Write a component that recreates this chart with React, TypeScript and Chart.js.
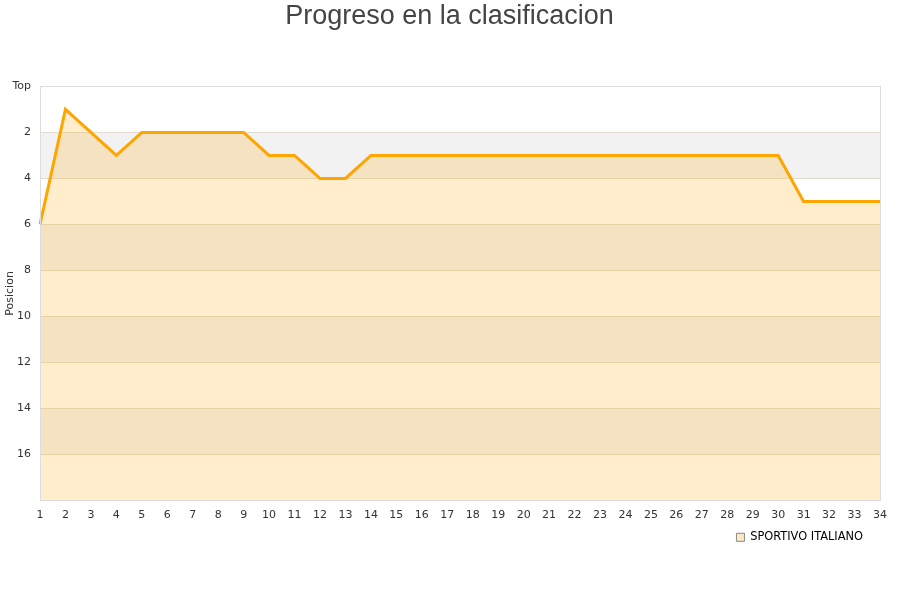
import React, { useEffect, useRef } from "react";
import { Chart, registerables } from "chart.js";

Chart.register(...registerables);

const matchdays: string[] = Array.from({ length: 34 }, (_, i) => String(i + 1));
const positions: number[] = [6, 1, 2, 3, 2, 2, 2, 2, 2, 3, 3, 4, 4, 3, 3, 3, 3, 3, 3, 3, 3, 3, 3, 3, 3, 3, 3, 3, 3, 3, 5, 5, 5, 5];
const teamName = "SPORTIVO ITALIANO";
const bandRanges: [number, number][] = [[2, 4], [6, 8], [10, 12], [14, 16]];

const bandsPlugin = {
  id: "bands",
  afterLayout(chart: any) {
    const lg = chart.legend;
    if (lg) {
      lg.left -= 7;
      lg.right -= 7;
      lg.top -= 8;
      lg.bottom -= 8;
    }
    const tb = chart.titleBlock;
    if (tb) {
      tb.left = 0;
      tb.right = 899;
    }
  },
  beforeDraw(chart: any) {
    const { ctx, chartArea, scales } = chart;
    const y = scales.y;
    ctx.save();
    ctx.fillStyle = "#f2f2f2";
    bandRanges.forEach(([a, b]) => {
      const y1 = y.getPixelForValue(a);
      const y2 = y.getPixelForValue(b);
      ctx.fillRect(chartArea.left, Math.min(y1, y2), chartArea.right - chartArea.left, Math.abs(y2 - y1));
    });
    ctx.restore();
  },
  afterDraw(chart: any) {
    const { ctx, chartArea } = chart;
    ctx.save();
    ctx.strokeStyle = "#dddddd";
    ctx.lineWidth = 1;
    ctx.strokeRect(Math.round(chartArea.left) + 0.5, Math.round(chartArea.top) + 0.5, Math.round(chartArea.right - chartArea.left), Math.round(chartArea.bottom - chartArea.top));
    ctx.restore();
  },
};

export default function App() {
  const ref = useRef<HTMLCanvasElement>(null);
  useEffect(() => {
    document.body.style.margin = "0";
    const chart = new Chart(ref.current!, {
      type: "line",
      data: {
        labels: matchdays,
        datasets: [
          {
            label: teamName,
            data: positions,
            borderColor: "#ffa500",
            backgroundColor: "rgba(255,165,0,0.2)",
            borderWidth: 3,
            pointRadius: 0,
            tension: 0,
            fill: { value: 18 },
          },
        ],
      },
      options: {
        animation: false,
        responsive: false,
        layout: { padding: { left: 4, right: 20, top: 0, bottom: 39 } },
        plugins: {
          title: {
            display: true,
            text: "Progreso en la clasificacion",
            color: "#444444",
            font: { family: "Liberation Sans", size: 27, weight: "normal" },
            padding: { top: 0, bottom: 54 },
          },
          legend: {
            position: "bottom",
            align: "end",
            labels: {
              boxWidth: 8,
              boxHeight: 8,
              color: "#000000",
              font: { family: "DejaVu Sans", size: 11.4 },
              generateLabels: () => [
                {
                  text: teamName,
                  fillStyle: "#fde9c3",
                  strokeStyle: "#888888",
                  lineWidth: 1,
                  datasetIndex: 0,
                } as any,
              ],
            },
          },
          tooltip: { enabled: false },
        },
        scales: {
          x: {
            offset: false,
            grid: { display: false, drawTicks: false },
            border: { display: false },
            ticks: {
              color: "#333333",
              font: { family: "DejaVu Sans", size: 11 },
              maxRotation: 0,
              autoSkip: false,
              padding: 8,
            },
          },
          y: {
            reverse: true,
            min: 0,
            max: 18,
            afterFit: (s: any) => {
              s.width = 36;
            },
            title: {
              display: true,
              text: "Posicion",
              color: "#333333",
              font: { family: "DejaVu Sans", size: 11 },
              padding: 0,
            },
            grid: { color: "#e2dcd0", drawTicks: false },
            border: { display: false },
            ticks: {
              stepSize: 2,
              color: "#333333",
              font: { family: "DejaVu Sans", size: 11 },
              padding: 9,
              callback: (v: any) => (v === 0 ? "Top" : v === 18 ? null : String(v)),
            },
          },
        },
      },
      plugins: [bandsPlugin],
    });
    return () => chart.destroy();
  }, []);
  return (
    <div style={{ width: 900, height: 600 }}>
      <canvas ref={ref} width={900} height={600} />
    </div>
  );
}
